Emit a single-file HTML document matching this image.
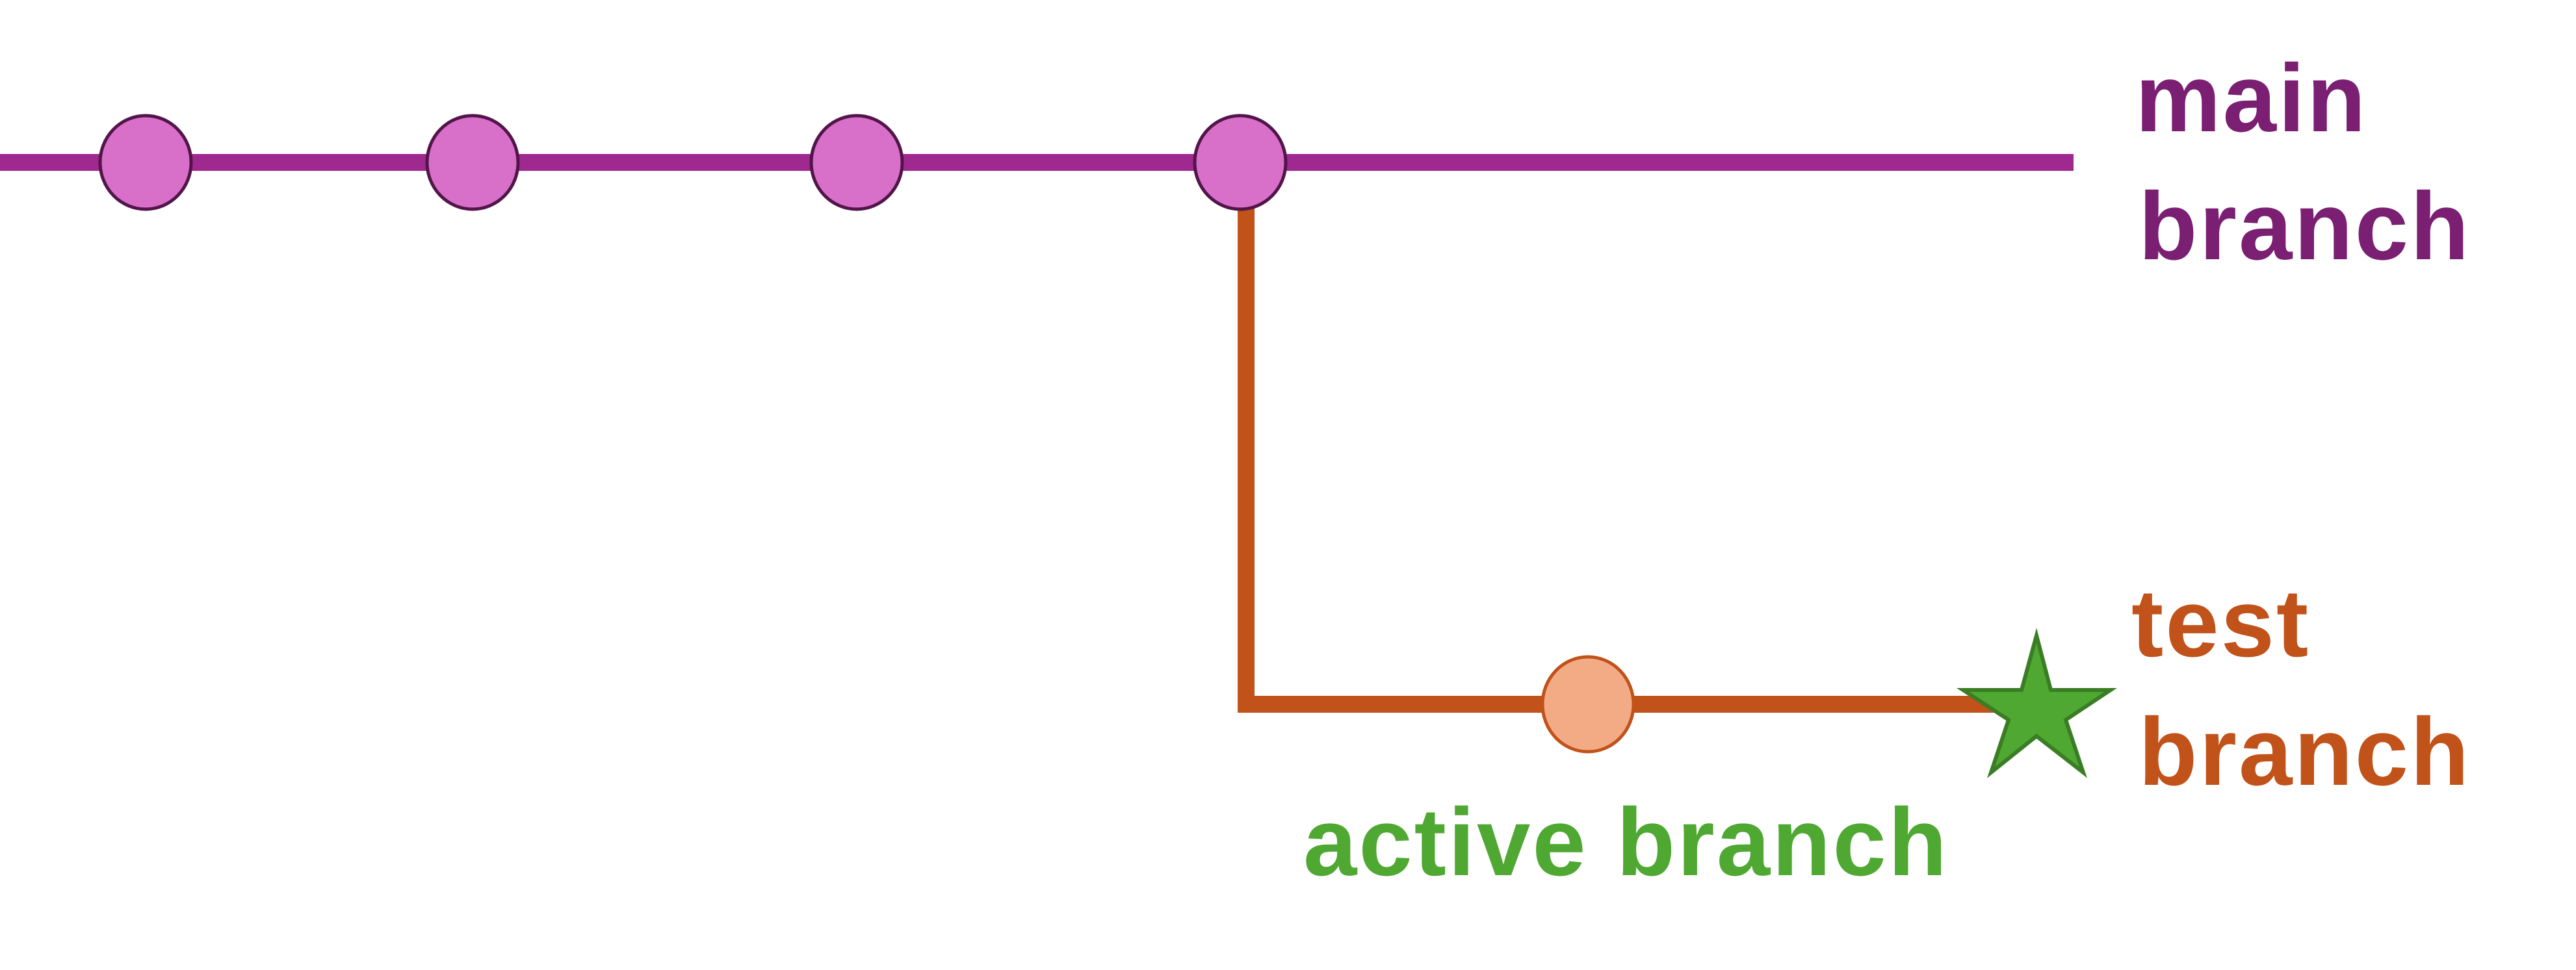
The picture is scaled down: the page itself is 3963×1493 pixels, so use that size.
<!DOCTYPE html>
<html><head><style>
html,body{margin:0;padding:0;background:#fff;width:3963px;height:1493px;overflow:hidden}
svg text{font-family:"Liberation Sans",sans-serif;font-weight:bold;font-size:148px;letter-spacing:3px}
</style></head><body>
<svg width="3963" height="1493" viewBox="0 0 3963 1493" xmlns="http://www.w3.org/2000/svg">
<rect width="3963" height="1493" fill="#fff"/>
<line x1="0" y1="250" x2="3190" y2="250" stroke="#a0298f" stroke-width="26"/>
<polyline points="1917,250 1917,1084 3080,1084" fill="none" stroke="#c0521a" stroke-width="26"/>
<g fill="#d86fc8" stroke="#52154a" stroke-width="5">
<ellipse cx="224" cy="250" rx="70" ry="72"/>
<ellipse cx="727" cy="250" rx="70" ry="72"/>
<ellipse cx="1318" cy="250" rx="70" ry="72"/>
<ellipse cx="1908" cy="250" rx="70" ry="72"/>
</g>
<ellipse cx="2443" cy="1084" rx="70" ry="73" fill="#f2ab85" stroke="#c0521a" stroke-width="5"/>
<polygon points="3133,978 3155,1062 3247,1062 3178,1108 3205,1189 3133,1133 3063,1189 3090,1108 3020,1062 3110,1062" fill="#4fa832" stroke="#3a7d24" stroke-width="6" stroke-linejoin="miter"/>
<text x="3285" y="202" fill="#7a1f72">main</text>
<text x="3290" y="399" fill="#7a1f72">branch</text>
<text x="3279" y="1010" fill="#c0521a">test</text>
<text x="3290" y="1208" fill="#c0521a">branch</text>
<text x="2005" y="1347" fill="#4fa832">active branch</text>
</svg>
</body></html>
